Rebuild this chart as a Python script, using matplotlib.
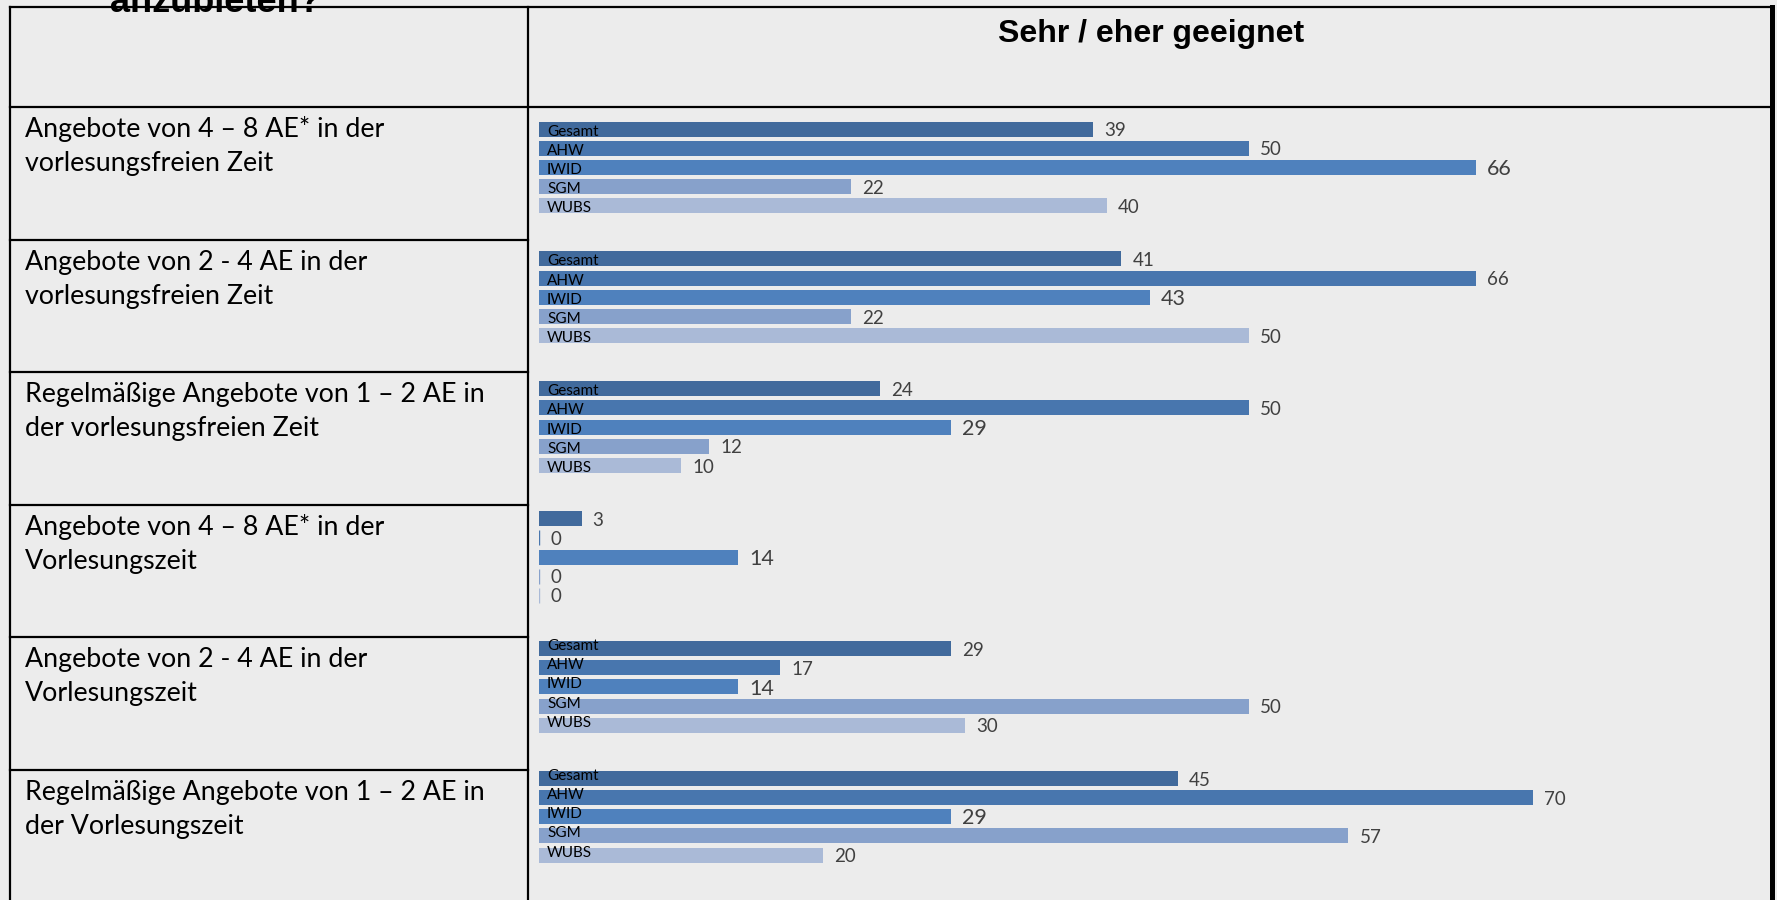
import matplotlib
matplotlib.use("Agg")
import matplotlib.pyplot as plt

# ---------------- data ----------------
row_labels = [
    ["Angebote von 4 – 8 AE* in der", "vorlesungsfreien Zeit"],
    ["Angebote von 2 - 4 AE in der", "vorlesungsfreien Zeit"],
    ["Regelmäßige Angebote von 1 – 2 AE in", "der vorlesungsfreien Zeit"],
    ["Angebote von 4 – 8 AE* in der", "Vorlesungszeit"],
    ["Angebote von 2 - 4 AE in der", "Vorlesungszeit"],
    ["Regelmäßige Angebote von 1 – 2 AE in", "der Vorlesungszeit"],
]
series = ["Gesamt", "AHW", "IWID", "SGM", "WUBS"]
values = [
    [39, 50, 66, 22, 40],
    [41, 66, 43, 22, 50],
    [24, 50, 29, 12, 10],
    [3, 0, 14, 0, 0],
    [29, 17, 14, 50, 30],
    [45, 70, 29, 57, 20],
]
show_series_labels = [True, True, True, False, True, True]
header_title = "Sehr / eher geeignet"
page_title = "anzubieten?"

colors = ["#416A9C", "#4876AE", "#4F81BD", "#87A1CB", "#AABAD7"]
bg = "#ECECEC"

W, H = 1777, 900
fig = plt.figure(figsize=(W / 100, H / 100), dpi=100, facecolor=bg)

# overlay axes in pixel coordinates for the table frame
ov = fig.add_axes([0, 0, 1, 1], facecolor="none", zorder=5)
ov.set_xlim(0, W)
ov.set_ylim(H, 0)
ov.axis("off")

x_left, x_div, x_right = 10, 528, 1772
y_top, y_head = 7, 107
row_h = 132.6
lw = 1.6

ov.plot([x_left, x_right], [y_top, y_top], color="black", lw=lw)
ov.plot([x_left, x_right], [y_head, y_head], color="black", lw=lw)
ov.plot([x_left, x_left], [y_top, H], color="black", lw=lw)
ov.plot([x_div, x_div], [y_top, H], color="black", lw=lw)
ov.plot([x_right, x_right], [y_top, H], color="black", lw=3.6)
for i in range(1, len(row_labels)):
    y = y_head + i * row_h
    ov.plot([x_left, x_div], [y, y], color="black", lw=lw)

for i, lines in enumerate(row_labels):
    yb = y_head + i * row_h + 30
    for k, line in enumerate(lines):
        ov.text(25, yb + k * 34, line, fontsize=19.3, family="Lato",
                color="black", va="baseline", ha="left")

ov.text(1151, 42, header_title, fontsize=23, family="Liberation Sans",
        weight="bold", ha="center", va="baseline", color="black")
ov.text(110, 12, page_title, fontsize=26, family="Liberation Sans",
        weight="bold", ha="left", va="baseline", color="black")

# ---------------- bar chart ----------------
px_per_unit = 14.2
x0_px = 539
xmax = 80
bar_pitch_px = 19.15
first_bar_px = 129
group_pitch = 129.9 / bar_pitch_px

ax_left = x0_px / W
ax_width = (px_per_unit * xmax) / W
ax_bottom = 0
ax_height = (H - y_head) / H
ax = fig.add_axes([ax_left, ax_bottom, ax_width, ax_height], facecolor="none")
ax.set_xlim(0, xmax)
ax.set_ylim((H - first_bar_px) / bar_pitch_px, -(first_bar_px - y_head) / bar_pitch_px)
ax.axis("off")

bar_h = 15 / bar_pitch_px
label_offsets = [0.7, 0.7, 0.7, 0.0, 4.3, 4.3]
for i, vals in enumerate(values):
    for j, v in enumerate(vals):
        y = i * group_pitch + j
        ax.barh(y, v, height=bar_h, color=colors[j],
                edgecolor=colors[j] if v == 0 else "none",
                linewidth=1.0 if v == 0 else 0)
        fs = 15.5 if series[j] == "IWID" else 13.5
        ax.annotate(str(v), xy=(v, y), xytext=(8, -1.2), textcoords="offset points",
                    va="center", ha="left", fontsize=fs, family="Lato",
                    color="#404040")
        if show_series_labels[i]:
            ax.annotate(series[j], xy=(0, y + bar_h / 2), xytext=(5.8, label_offsets[i]),
                        textcoords="offset points", va="baseline", ha="left",
                        fontsize=11, family="Lato", color="black")

fig.savefig("out.png", dpi=100, facecolor=bg)
